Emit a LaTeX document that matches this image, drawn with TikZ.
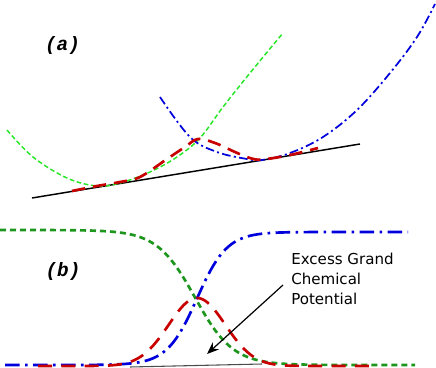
\documentclass[tikz,border=0pt]{standalone}
\usepackage{fontspec}
\setmainfont{DejaVu Sans}
\newfontfamily\labfont{Liberation Mono}
\usetikzlibrary{arrows.meta}
\definecolor{lgreen}{RGB}{40,230,40}
\definecolor{dgreen}{RGB}{30,150,30}
\definecolor{cblue}{RGB}{0,0,220}
\definecolor{cred}{RGB}{200,0,0}
\tikzset{
  greena/.style={lgreen,line width=1.1pt,dash pattern=on 3.5pt off 2pt},
  bluea/.style={cblue,line width=1.3pt,dash pattern=on 6.5pt off 2.5pt on 1.5pt off 2.5pt},
  reda/.style={cred,line width=2pt,dash pattern=on 10pt off 6pt},
  greenb/.style={dgreen,line width=2pt,dash pattern=on 4.5pt off 3pt},
  blueb/.style={cblue,line width=2pt,dash pattern=on 11pt off 4pt on 2pt off 4pt},
  redb/.style={cred,line width=2pt,dash pattern=on 10.5pt off 7pt},
  panel/.style={font=\labfont\fontsize{14.5}{16}\selectfont\bfseries\itshape,inner sep=0pt},
  lbl/.style={font=\fontsize{11.3}{15}\selectfont,align=left,inner sep=0pt}
}
\begin{document}
\begin{tikzpicture}[x=0.75pt,y=-0.75pt]
\useasboundingbox (0,0) rectangle (436,368);
% ---------- (a)
\node[panel] (la) at (62.5,46) {(a)};
\coordinate (t1) at (32,198);
\coordinate (t2) at (360,144);
\draw[black,line width=1.1pt] (t1) -- (t2);
\draw[greena] plot[smooth,tension=0.6] coordinates {(7,130)(33,157)(67,178)(97,186)(120,183)(150,172)(177,157)(200,138)(223,107)(250,73)(283,33)};
\draw[bluea] plot[smooth,tension=0.6] coordinates {(160,97)(190,137)(217,152)(247,159)(262,160)(290,153)(323,137)(357,110)(390,73)(417,37)(435,4)};
\draw[reda] plot[smooth,tension=0.6] coordinates {(72,191)(97,186)(120,182)(140,177)(167,159)(185,147)(198,139)(215,143)(235,152)(250,158)(262,159.5)(290,155)(318,148)};
% ---------- (b)
\node[panel] (lb) at (63,271.5) {(b)};
\coordinate (g1) at (130,367);
\coordinate (g2) at (262,364);
\draw[black!70,line width=0.8pt] (g1) -- (g2);
\draw[greenb] plot[domain=0:415,samples=140] (\x,{297.5+67.5*tanh((\x-195)/38)});
\draw[blueb] plot[domain=5:408,samples=140] (\x,{298.5-66.5*tanh((\x-197)/30)});
\draw[redb] plot[domain=38:375,samples=140] (\x,{366-68*exp(-((\x-197)/40)^2)});
\node[lbl,anchor=north west] (txt) at (291,253) {Excess Grand\\Chemical\\Potential};
\coordinate (src) at (283,285);
\coordinate (tip) at (207,354);
\draw[black,line width=0.9pt,-{Stealth[length=9pt,width=7pt]}] (src) -- (tip);
\end{tikzpicture}
\end{document}
